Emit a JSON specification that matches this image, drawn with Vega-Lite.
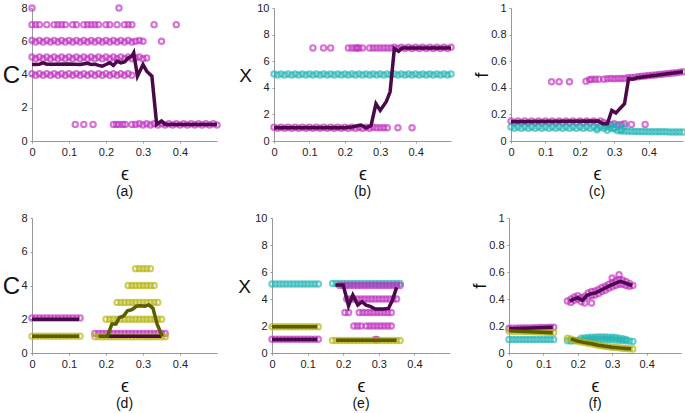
{
"$schema": "https://vega.github.io/schema/vega-lite/v6.json",
"padding": {"left": 2, "top": 0, "right": 0, "bottom": 0},
"datasets": {
"A": [
{"e":0,"v":4.05,"c":"m"},{"e":0.01,"v":3.95,"c":"m"},{"e":0.02,"v":4.05,"c":"m"},{"e":0.03,"v":3.95,"c":"m"},{"e":0.04,"v":4.05,"c":"m"},{"e":0.05,"v":3.95,"c":"m"},{"e":0.06,"v":4.05,"c":"m"},{"e":0.07,"v":3.95,"c":"m"},{"e":0.08,"v":4.05,"c":"m"},{"e":0.09,"v":3.95,"c":"m"},{"e":0.1,"v":4.05,"c":"m"},{"e":0.11,"v":3.95,"c":"m"},{"e":0.12,"v":4.05,"c":"m"},{"e":0.13,"v":3.95,"c":"m"},{"e":0.14,"v":4.05,"c":"m"},{"e":0.15,"v":3.95,"c":"m"},{"e":0.16,"v":4.05,"c":"m"},{"e":0.17,"v":3.95,"c":"m"},{"e":0.18,"v":4.05,"c":"m"},{"e":0.19,"v":3.95,"c":"m"},{"e":0.2,"v":4.05,"c":"m"},{"e":0.21,"v":3.95,"c":"m"},{"e":0.22,"v":4.05,"c":"m"},{"e":0.23,"v":3.95,"c":"m"},{"e":0.24,"v":4.05,"c":"m"},{"e":0.25,"v":3.95,"c":"m"},{"e":0.26,"v":4.05,"c":"m"},{"e":0.27,"v":3.95,"c":"m"},
{"e":0,"v":5.05,"c":"m"},{"e":0.01,"v":4.95,"c":"m"},{"e":0.02,"v":5.05,"c":"m"},{"e":0.03,"v":4.95,"c":"m"},{"e":0.04,"v":5.05,"c":"m"},{"e":0.05,"v":4.95,"c":"m"},{"e":0.06,"v":5.05,"c":"m"},{"e":0.07,"v":4.95,"c":"m"},{"e":0.08,"v":5.05,"c":"m"},{"e":0.09,"v":4.95,"c":"m"},{"e":0.1,"v":5.05,"c":"m"},{"e":0.11,"v":4.95,"c":"m"},{"e":0.12,"v":5.05,"c":"m"},{"e":0.13,"v":4.95,"c":"m"},{"e":0.14,"v":5.05,"c":"m"},{"e":0.15,"v":4.95,"c":"m"},{"e":0.16,"v":5.05,"c":"m"},{"e":0.17,"v":4.95,"c":"m"},{"e":0.18,"v":5.05,"c":"m"},{"e":0.19,"v":4.95,"c":"m"},{"e":0.2,"v":5.05,"c":"m"},{"e":0.21,"v":4.95,"c":"m"},{"e":0.22,"v":5.05,"c":"m"},{"e":0.23,"v":4.95,"c":"m"},{"e":0.24,"v":5.05,"c":"m"},{"e":0.25,"v":4.95,"c":"m"},{"e":0.26,"v":5.05,"c":"m"},{"e":0.27,"v":4.95,"c":"m"},{"e":0.28,"v":5,"c":"m"},{"e":0.29,"v":5.05,"c":"m"},{"e":0.3,"v":4.95,"c":"m"},{"e":0.31,"v":5,"c":"m"},
{"e":0,"v":6.05,"c":"m"},{"e":0.01,"v":5.95,"c":"m"},{"e":0.02,"v":6.05,"c":"m"},{"e":0.03,"v":5.95,"c":"m"},{"e":0.04,"v":6.05,"c":"m"},{"e":0.05,"v":5.95,"c":"m"},{"e":0.06,"v":6.05,"c":"m"},{"e":0.07,"v":5.95,"c":"m"},{"e":0.08,"v":6.05,"c":"m"},{"e":0.09,"v":5.95,"c":"m"},{"e":0.1,"v":6.05,"c":"m"},{"e":0.11,"v":5.95,"c":"m"},{"e":0.12,"v":6.05,"c":"m"},{"e":0.13,"v":5.95,"c":"m"},{"e":0.14,"v":6.05,"c":"m"},{"e":0.15,"v":5.95,"c":"m"},{"e":0.16,"v":6.05,"c":"m"},{"e":0.17,"v":5.95,"c":"m"},{"e":0.18,"v":6.05,"c":"m"},{"e":0.19,"v":5.95,"c":"m"},{"e":0.2,"v":6.05,"c":"m"},{"e":0.21,"v":5.95,"c":"m"},{"e":0.22,"v":6.05,"c":"m"},{"e":0.23,"v":5.95,"c":"m"},{"e":0.24,"v":6.05,"c":"m"},{"e":0.25,"v":5.95,"c":"m"},{"e":0.26,"v":6.05,"c":"m"},{"e":0.27,"v":5.95,"c":"m"},{"e":0.28,"v":6,"c":"m"},{"e":0.29,"v":6.05,"c":"m"},{"e":0.3,"v":6,"c":"m"},{"e":0.35,"v":6,"c":"m"},
{"e":0,"v":7,"c":"m"},{"e":0.01,"v":7,"c":"m"},{"e":0.02,"v":7,"c":"m"},{"e":0.04,"v":7,"c":"m"},{"e":0.06,"v":7,"c":"m"},{"e":0.07,"v":7,"c":"m"},{"e":0.08,"v":7,"c":"m"},{"e":0.09,"v":7,"c":"m"},{"e":0.11,"v":7,"c":"m"},{"e":0.12,"v":7,"c":"m"},{"e":0.14,"v":7,"c":"m"},{"e":0.15,"v":7,"c":"m"},{"e":0.16,"v":7,"c":"m"},{"e":0.17,"v":7,"c":"m"},{"e":0.18,"v":7,"c":"m"},{"e":0.2,"v":7,"c":"m"},{"e":0.21,"v":7,"c":"m"},{"e":0.23,"v":7,"c":"m"},{"e":0.25,"v":7,"c":"m"},{"e":0.26,"v":7,"c":"m"},{"e":0.27,"v":7,"c":"m"},{"e":0.33,"v":7,"c":"m"},{"e":0.39,"v":7,"c":"m"},
{"e":0,"v":8,"c":"m"},{"e":0.235,"v":8,"c":"m"},
{"e":0.117,"v":1,"c":"m"},{"e":0.14,"v":1,"c":"m"},{"e":0.165,"v":1,"c":"m"},{"e":0.22,"v":1,"c":"m"},{"e":0.228,"v":1,"c":"m"},{"e":0.235,"v":1,"c":"m"},{"e":0.245,"v":1,"c":"m"},{"e":0.252,"v":1,"c":"m"},{"e":0.27,"v":1,"c":"m"},{"e":0.28,"v":1,"c":"m"},
{"e":0.29,"v":1.04,"c":"m"},{"e":0.3,"v":0.96,"c":"m"},{"e":0.31,"v":1.04,"c":"m"},{"e":0.32,"v":0.96,"c":"m"},{"e":0.33,"v":1.04,"c":"m"},{"e":0.34,"v":0.96,"c":"m"},{"e":0.35,"v":1.04,"c":"m"},{"e":0.36,"v":0.96,"c":"m"},{"e":0.37,"v":1.04,"c":"m"},{"e":0.38,"v":0.96,"c":"m"},{"e":0.39,"v":1.04,"c":"m"},{"e":0.4,"v":0.96,"c":"m"},{"e":0.41,"v":1.04,"c":"m"},{"e":0.42,"v":0.96,"c":"m"},{"e":0.43,"v":1.04,"c":"m"},{"e":0.44,"v":0.96,"c":"m"},{"e":0.45,"v":1.04,"c":"m"},{"e":0.46,"v":0.96,"c":"m"},{"e":0.47,"v":1.04,"c":"m"},{"e":0.48,"v":0.96,"c":"m"},{"e":0.49,"v":1.04,"c":"m"},{"e":0.5,"v":0.96,"c":"m"}
],
"AL": [
{"e":0,"v":4.6,"c":"p","s":1},{"e":0.02,"v":4.62,"c":"p","s":1},{"e":0.03,"v":4.7,"c":"p","s":1},{"e":0.04,"v":4.62,"c":"p","s":1},{"e":0.06,"v":4.62,"c":"p","s":1},{"e":0.1,"v":4.63,"c":"p","s":1},{"e":0.13,"v":4.6,"c":"p","s":1},{"e":0.15,"v":4.67,"c":"p","s":1},{"e":0.16,"v":4.6,"c":"p","s":1},{"e":0.17,"v":4.62,"c":"p","s":1},{"e":0.18,"v":4.55,"c":"p","s":1},{"e":0.19,"v":4.5,"c":"p","s":1},{"e":0.2,"v":4.6,"c":"p","s":1},{"e":0.21,"v":4.7,"c":"p","s":1},{"e":0.22,"v":4.55,"c":"p","s":1},{"e":0.23,"v":4.8,"c":"p","s":1},{"e":0.24,"v":4.7,"c":"p","s":1},{"e":0.25,"v":4.75,"c":"p","s":1},{"e":0.26,"v":5.0,"c":"p","s":1},{"e":0.27,"v":5.1,"c":"p","s":1},{"e":0.275,"v":5.3,"c":"p","s":1},{"e":0.285,"v":3.9,"c":"p","s":1},{"e":0.3,"v":4.6,"c":"p","s":1},{"e":0.31,"v":4.2,"c":"p","s":1},{"e":0.324,"v":3.9,"c":"p","s":1},{"e":0.337,"v":1.0,"c":"p","s":1},{"e":0.35,"v":1.2,"c":"p","s":1},{"e":0.36,"v":1.0,"c":"p","s":1},{"e":0.5,"v":1.0,"c":"p","s":1}
],
"B": [
{"e":0,"v":1.04,"c":"m"},{"e":0.01,"v":0.96,"c":"m"},{"e":0.02,"v":1.04,"c":"m"},{"e":0.03,"v":0.96,"c":"m"},{"e":0.04,"v":1.04,"c":"m"},{"e":0.05,"v":0.96,"c":"m"},{"e":0.06,"v":1.04,"c":"m"},{"e":0.07,"v":0.96,"c":"m"},{"e":0.08,"v":1.04,"c":"m"},{"e":0.09,"v":0.96,"c":"m"},{"e":0.1,"v":1.04,"c":"m"},{"e":0.11,"v":0.96,"c":"m"},{"e":0.12,"v":1.04,"c":"m"},{"e":0.13,"v":0.96,"c":"m"},{"e":0.14,"v":1.04,"c":"m"},{"e":0.15,"v":0.96,"c":"m"},{"e":0.16,"v":1.04,"c":"m"},{"e":0.17,"v":0.96,"c":"m"},{"e":0.18,"v":1.04,"c":"m"},{"e":0.19,"v":0.96,"c":"m"},{"e":0.2,"v":1.04,"c":"m"},{"e":0.21,"v":0.96,"c":"m"},{"e":0.22,"v":1.04,"c":"m"},{"e":0.23,"v":0.96,"c":"m"},{"e":0.24,"v":1.04,"c":"m"},{"e":0.25,"v":0.96,"c":"m"},{"e":0.26,"v":1.04,"c":"m"},{"e":0.27,"v":0.96,"c":"m"},{"e":0.28,"v":1.04,"c":"m"},
{"e":0.29,"v":1,"c":"m"},{"e":0.3,"v":1,"c":"m"},{"e":0.31,"v":1,"c":"m"},{"e":0.32,"v":1,"c":"m"},{"e":0.35,"v":1,"c":"m"},{"e":0.39,"v":1,"c":"m"},
{"e":0.11,"v":7,"c":"m"},{"e":0.14,"v":7,"c":"m"},{"e":0.16,"v":7,"c":"m"},{"e":0.21,"v":7,"c":"m"},{"e":0.22,"v":7,"c":"m"},{"e":0.23,"v":7,"c":"m"},{"e":0.235,"v":7,"c":"m"},{"e":0.24,"v":7,"c":"m"},{"e":0.25,"v":7,"c":"m"},{"e":0.27,"v":7,"c":"m"},{"e":0.28,"v":7,"c":"m"},{"e":0.29,"v":7,"c":"m"},{"e":0.3,"v":7,"c":"m"},{"e":0.31,"v":7,"c":"m"},{"e":0.32,"v":7,"c":"m"},{"e":0.33,"v":7,"c":"m"},
{"e":0.34,"v":7.04,"c":"m"},{"e":0.35,"v":6.96,"c":"m"},{"e":0.36,"v":7.04,"c":"m"},{"e":0.37,"v":6.96,"c":"m"},{"e":0.38,"v":7.04,"c":"m"},{"e":0.39,"v":6.96,"c":"m"},{"e":0.4,"v":7.04,"c":"m"},{"e":0.41,"v":6.96,"c":"m"},{"e":0.42,"v":7.04,"c":"m"},{"e":0.43,"v":6.96,"c":"m"},{"e":0.44,"v":7.04,"c":"m"},{"e":0.45,"v":6.96,"c":"m"},{"e":0.46,"v":7.04,"c":"m"},{"e":0.47,"v":6.96,"c":"m"},{"e":0.48,"v":7.04,"c":"m"},{"e":0.49,"v":6.96,"c":"m"},{"e":0.5,"v":7.04,"c":"m"},
{"e":0,"v":5.04,"c":"t"},{"e":0.01,"v":4.96,"c":"t"},{"e":0.02,"v":5.04,"c":"t"},{"e":0.03,"v":4.96,"c":"t"},{"e":0.04,"v":5.04,"c":"t"},{"e":0.05,"v":4.96,"c":"t"},{"e":0.06,"v":5.04,"c":"t"},{"e":0.07,"v":4.96,"c":"t"},{"e":0.08,"v":5.04,"c":"t"},{"e":0.09,"v":4.96,"c":"t"},{"e":0.1,"v":5.04,"c":"t"},{"e":0.11,"v":4.96,"c":"t"},{"e":0.12,"v":5.04,"c":"t"},{"e":0.13,"v":4.96,"c":"t"},{"e":0.14,"v":5.04,"c":"t"},{"e":0.15,"v":4.96,"c":"t"},{"e":0.16,"v":5.04,"c":"t"},{"e":0.17,"v":4.96,"c":"t"},{"e":0.18,"v":5.04,"c":"t"},{"e":0.19,"v":4.96,"c":"t"},{"e":0.2,"v":5.04,"c":"t"},{"e":0.21,"v":4.96,"c":"t"},{"e":0.22,"v":5.04,"c":"t"},{"e":0.23,"v":4.96,"c":"t"},{"e":0.24,"v":5.04,"c":"t"},{"e":0.25,"v":4.96,"c":"t"},{"e":0.26,"v":5.04,"c":"t"},{"e":0.27,"v":4.96,"c":"t"},{"e":0.28,"v":5.04,"c":"t"},{"e":0.29,"v":4.96,"c":"t"},{"e":0.3,"v":5.04,"c":"t"},{"e":0.31,"v":4.96,"c":"t"},{"e":0.32,"v":5.04,"c":"t"},{"e":0.33,"v":4.96,"c":"t"},{"e":0.34,"v":5.04,"c":"t"},{"e":0.35,"v":4.96,"c":"t"},{"e":0.36,"v":5.04,"c":"t"},{"e":0.37,"v":4.96,"c":"t"},{"e":0.38,"v":5.04,"c":"t"},{"e":0.39,"v":4.96,"c":"t"},{"e":0.4,"v":5.04,"c":"t"},{"e":0.41,"v":4.96,"c":"t"},{"e":0.42,"v":5.04,"c":"t"},{"e":0.43,"v":4.96,"c":"t"},{"e":0.44,"v":5.04,"c":"t"},{"e":0.45,"v":4.96,"c":"t"},{"e":0.46,"v":5.04,"c":"t"},{"e":0.47,"v":4.96,"c":"t"},{"e":0.48,"v":5.04,"c":"t"},{"e":0.49,"v":4.96,"c":"t"},{"e":0.5,"v":5.04,"c":"t"}
],
"BL": [
{"e":0,"v":1,"c":"p","s":1},{"e":0.2,"v":1,"c":"p","s":1},{"e":0.22,"v":1.05,"c":"p","s":1},{"e":0.246,"v":1.2,"c":"p","s":1},{"e":0.26,"v":1.0,"c":"p","s":1},{"e":0.274,"v":1.15,"c":"p","s":1},{"e":0.288,"v":2.8,"c":"p","s":1},{"e":0.3,"v":2.3,"c":"p","s":1},{"e":0.317,"v":2.95,"c":"p","s":1},{"e":0.328,"v":3.7,"c":"p","s":1},{"e":0.34,"v":6.95,"c":"p","s":1},{"e":0.352,"v":6.75,"c":"p","s":1},{"e":0.362,"v":7.0,"c":"p","s":1},{"e":0.5,"v":7.0,"c":"p","s":1}
],
"C": [
{"e":0,"v":0.15,"c":"m"},{"e":0.01,"v":0.14,"c":"m"},{"e":0.02,"v":0.15,"c":"m"},{"e":0.03,"v":0.14,"c":"m"},{"e":0.04,"v":0.15,"c":"m"},{"e":0.05,"v":0.14,"c":"m"},{"e":0.06,"v":0.15,"c":"m"},{"e":0.07,"v":0.14,"c":"m"},{"e":0.08,"v":0.15,"c":"m"},{"e":0.09,"v":0.14,"c":"m"},{"e":0.1,"v":0.15,"c":"m"},{"e":0.11,"v":0.14,"c":"m"},{"e":0.12,"v":0.15,"c":"m"},{"e":0.13,"v":0.14,"c":"m"},{"e":0.14,"v":0.15,"c":"m"},{"e":0.15,"v":0.14,"c":"m"},{"e":0.16,"v":0.15,"c":"m"},{"e":0.17,"v":0.14,"c":"m"},{"e":0.18,"v":0.15,"c":"m"},{"e":0.19,"v":0.14,"c":"m"},{"e":0.2,"v":0.15,"c":"m"},{"e":0.21,"v":0.14,"c":"m"},{"e":0.22,"v":0.15,"c":"m"},{"e":0.23,"v":0.14,"c":"m"},{"e":0.24,"v":0.15,"c":"m"},{"e":0.25,"v":0.14,"c":"m"},{"e":0.26,"v":0.15,"c":"m"},{"e":0.27,"v":0.14,"c":"m"},
{"e":0.28,"v":0.13,"c":"m"},{"e":0.29,"v":0.125,"c":"m"},{"e":0.3,"v":0.13,"c":"m"},{"e":0.31,"v":0.12,"c":"m"},{"e":0.32,"v":0.125,"c":"m"},{"e":0.33,"v":0.13,"c":"m"},{"e":0.35,"v":0.125,"c":"m"},{"e":0.39,"v":0.125,"c":"m"},
{"e":0.118,"v":0.445,"c":"m"},{"e":0.14,"v":0.445,"c":"m"},{"e":0.17,"v":0.445,"c":"m"},{"e":0.218,"v":0.45,"c":"m"},{"e":0.228,"v":0.46,"c":"m"},{"e":0.235,"v":0.465,"c":"m"},{"e":0.245,"v":0.465,"c":"m"},{"e":0.255,"v":0.465,"c":"m"},{"e":0.27,"v":0.465,"c":"m"},{"e":0.28,"v":0.468,"c":"m"},{"e":0.29,"v":0.47,"c":"m"},{"e":0.3,"v":0.468,"c":"m"},{"e":0.31,"v":0.47,"c":"m"},{"e":0.32,"v":0.47,"c":"m"},{"e":0.33,"v":0.47,"c":"m"},
{"e":0.34,"v":0.475,"c":"m"},{"e":0.35,"v":0.478,"c":"m"},{"e":0.36,"v":0.48,"c":"m"},{"e":0.37,"v":0.483,"c":"m"},{"e":0.38,"v":0.486,"c":"m"},{"e":0.39,"v":0.489,"c":"m"},{"e":0.4,"v":0.492,"c":"m"},{"e":0.41,"v":0.494,"c":"m"},{"e":0.42,"v":0.497,"c":"m"},{"e":0.43,"v":0.5,"c":"m"},{"e":0.44,"v":0.502,"c":"m"},{"e":0.45,"v":0.505,"c":"m"},{"e":0.46,"v":0.508,"c":"m"},{"e":0.47,"v":0.511,"c":"m"},{"e":0.48,"v":0.514,"c":"m"},{"e":0.49,"v":0.517,"c":"m"},{"e":0.5,"v":0.52,"c":"m"},
{"e":0,"v":0.105,"c":"t"},{"e":0.01,"v":0.095,"c":"t"},{"e":0.02,"v":0.105,"c":"t"},{"e":0.03,"v":0.095,"c":"t"},{"e":0.04,"v":0.105,"c":"t"},{"e":0.05,"v":0.095,"c":"t"},{"e":0.06,"v":0.105,"c":"t"},{"e":0.07,"v":0.095,"c":"t"},{"e":0.08,"v":0.105,"c":"t"},{"e":0.09,"v":0.095,"c":"t"},{"e":0.1,"v":0.105,"c":"t"},{"e":0.11,"v":0.095,"c":"t"},{"e":0.12,"v":0.105,"c":"t"},{"e":0.13,"v":0.095,"c":"t"},{"e":0.14,"v":0.105,"c":"t"},{"e":0.15,"v":0.095,"c":"t"},{"e":0.16,"v":0.105,"c":"t"},{"e":0.17,"v":0.095,"c":"t"},{"e":0.18,"v":0.105,"c":"t"},{"e":0.19,"v":0.095,"c":"t"},{"e":0.2,"v":0.105,"c":"t"},{"e":0.21,"v":0.095,"c":"t"},{"e":0.22,"v":0.105,"c":"t"},{"e":0.23,"v":0.095,"c":"t"},{"e":0.24,"v":0.105,"c":"t"},{"e":0.25,"v":0.095,"c":"t"},{"e":0.26,"v":0.105,"c":"t"},{"e":0.27,"v":0.095,"c":"t"},{"e":0.28,"v":0.105,"c":"t"},{"e":0.29,"v":0.095,"c":"t"},{"e":0.3,"v":0.1,"c":"t"},
{"e":0.25,"v":0.085,"c":"t"},{"e":0.27,"v":0.115,"c":"t"},{"e":0.28,"v":0.08,"c":"t"},{"e":0.29,"v":0.12,"c":"t"},{"e":0.3,"v":0.09,"c":"t"},{"e":0.31,"v":0.115,"c":"t"},{"e":0.32,"v":0.085,"c":"t"},{"e":0.33,"v":0.11,"c":"t"},
{"e":0.31,"v":0.078,"c":"t"},{"e":0.32,"v":0.076,"c":"t"},{"e":0.33,"v":0.075,"c":"t"},{"e":0.34,"v":0.074,"c":"t"},{"e":0.35,"v":0.073,"c":"t"},{"e":0.36,"v":0.072,"c":"t"},{"e":0.37,"v":0.072,"c":"t"},{"e":0.38,"v":0.071,"c":"t"},{"e":0.39,"v":0.071,"c":"t"},{"e":0.4,"v":0.07,"c":"t"},{"e":0.41,"v":0.07,"c":"t"},{"e":0.42,"v":0.07,"c":"t"},{"e":0.43,"v":0.069,"c":"t"},{"e":0.44,"v":0.069,"c":"t"},{"e":0.45,"v":0.069,"c":"t"},{"e":0.46,"v":0.068,"c":"t"},{"e":0.47,"v":0.068,"c":"t"},{"e":0.48,"v":0.068,"c":"t"},{"e":0.49,"v":0.068,"c":"t"},{"e":0.5,"v":0.067,"c":"t"}
],
"CL": [
{"e":0,"v":0.145,"c":"p","s":1},{"e":0.254,"v":0.15,"c":"p","s":1},{"e":0.267,"v":0.13,"c":"p","s":1},{"e":0.28,"v":0.13,"c":"p","s":1},{"e":0.293,"v":0.23,"c":"p","s":1},{"e":0.305,"v":0.21,"c":"p","s":1},{"e":0.317,"v":0.245,"c":"p","s":1},{"e":0.33,"v":0.28,"c":"p","s":1},{"e":0.342,"v":0.47,"c":"p","s":1},{"e":0.353,"v":0.465,"c":"p","s":1},{"e":0.366,"v":0.475,"c":"p","s":1},{"e":0.5,"v":0.52,"c":"p","s":1}
],
"D": [
{"e":0,"v":2.08,"c":"m"},{"e":0.01,"v":2.08,"c":"m"},{"e":0.02,"v":2.08,"c":"m"},{"e":0.03,"v":2.08,"c":"m"},{"e":0.04,"v":2.08,"c":"m"},{"e":0.05,"v":2.08,"c":"m"},{"e":0.06,"v":2.08,"c":"m"},{"e":0.07,"v":2.08,"c":"m"},{"e":0.08,"v":2.08,"c":"m"},{"e":0.09,"v":2.08,"c":"m"},{"e":0.1,"v":2.08,"c":"m"},{"e":0.11,"v":2.08,"c":"m"},{"e":0.12,"v":2.08,"c":"m"},{"e":0.13,"v":2.08,"c":"m"},
{"e":0.17,"v":1.15,"c":"m"},{"e":0.18,"v":1.15,"c":"m"},{"e":0.19,"v":1.15,"c":"m"},{"e":0.2,"v":1.15,"c":"m"},{"e":0.21,"v":1.15,"c":"m"},{"e":0.22,"v":1.15,"c":"m"},{"e":0.23,"v":1.15,"c":"m"},{"e":0.24,"v":1.15,"c":"m"},{"e":0.25,"v":1.15,"c":"m"},{"e":0.26,"v":1.15,"c":"m"},{"e":0.27,"v":1.15,"c":"m"},{"e":0.28,"v":1.15,"c":"m"},{"e":0.29,"v":1.15,"c":"m"},{"e":0.3,"v":1.15,"c":"m"},{"e":0.31,"v":1.15,"c":"m"},{"e":0.32,"v":1.15,"c":"m"},{"e":0.33,"v":1.15,"c":"m"},{"e":0.34,"v":1.15,"c":"m"},{"e":0.35,"v":1.15,"c":"m"},{"e":0.36,"v":1.15,"c":"m"},
{"e":0,"v":1,"c":"o"},{"e":0.01,"v":1,"c":"o"},{"e":0.02,"v":1,"c":"o"},{"e":0.03,"v":1,"c":"o"},{"e":0.04,"v":1,"c":"o"},{"e":0.05,"v":1,"c":"o"},{"e":0.06,"v":1,"c":"o"},{"e":0.07,"v":1,"c":"o"},{"e":0.08,"v":1,"c":"o"},{"e":0.09,"v":1,"c":"o"},{"e":0.1,"v":1,"c":"o"},{"e":0.11,"v":1,"c":"o"},{"e":0.12,"v":1,"c":"o"},{"e":0.13,"v":1,"c":"o"},
{"e":0.17,"v":0.97,"c":"o"},{"e":0.18,"v":0.97,"c":"o"},{"e":0.19,"v":0.97,"c":"o"},{"e":0.2,"v":0.97,"c":"o"},{"e":0.21,"v":0.97,"c":"o"},{"e":0.22,"v":0.97,"c":"o"},{"e":0.23,"v":0.97,"c":"o"},{"e":0.24,"v":0.97,"c":"o"},{"e":0.25,"v":0.97,"c":"o"},{"e":0.26,"v":0.97,"c":"o"},{"e":0.27,"v":0.97,"c":"o"},{"e":0.28,"v":0.97,"c":"o"},{"e":0.29,"v":0.97,"c":"o"},{"e":0.3,"v":0.97,"c":"o"},{"e":0.31,"v":0.97,"c":"o"},{"e":0.32,"v":0.97,"c":"o"},{"e":0.33,"v":0.97,"c":"o"},{"e":0.34,"v":0.97,"c":"o"},{"e":0.35,"v":0.97,"c":"o"},{"e":0.36,"v":0.97,"c":"o"},
{"e":0.2,"v":2,"c":"o"},{"e":0.21,"v":2,"c":"o"},{"e":0.22,"v":2,"c":"o"},{"e":0.23,"v":2,"c":"o"},{"e":0.24,"v":2,"c":"o"},{"e":0.25,"v":2,"c":"o"},{"e":0.26,"v":2,"c":"o"},{"e":0.27,"v":2,"c":"o"},{"e":0.28,"v":2,"c":"o"},{"e":0.29,"v":2,"c":"o"},{"e":0.3,"v":2,"c":"o"},{"e":0.31,"v":2,"c":"o"},{"e":0.32,"v":2,"c":"o"},{"e":0.33,"v":2,"c":"o"},{"e":0.34,"v":2,"c":"o"},{"e":0.35,"v":2,"c":"o"},
{"e":0.23,"v":3,"c":"o"},{"e":0.24,"v":3,"c":"o"},{"e":0.25,"v":3,"c":"o"},{"e":0.26,"v":3,"c":"o"},{"e":0.27,"v":3,"c":"o"},{"e":0.28,"v":3,"c":"o"},{"e":0.29,"v":3,"c":"o"},{"e":0.3,"v":3,"c":"o"},{"e":0.31,"v":3,"c":"o"},{"e":0.32,"v":3,"c":"o"},{"e":0.33,"v":3,"c":"o"},{"e":0.34,"v":3,"c":"o"},
{"e":0.26,"v":4,"c":"o"},{"e":0.27,"v":4,"c":"o"},{"e":0.28,"v":4,"c":"o"},{"e":0.29,"v":4,"c":"o"},{"e":0.3,"v":4,"c":"o"},{"e":0.31,"v":4,"c":"o"},{"e":0.32,"v":4,"c":"o"},{"e":0.33,"v":4,"c":"o"},
{"e":0.28,"v":5,"c":"o"},{"e":0.29,"v":5,"c":"o"},{"e":0.3,"v":5,"c":"o"},{"e":0.31,"v":5,"c":"o"},{"e":0.32,"v":5,"c":"o"}
],
"DL": [
{"e":0,"v":2.0,"c":"p","s":1},{"e":0.127,"v":2.0,"c":"p","s":1},
{"e":0.2,"v":1.0,"c":"p","s":3},{"e":0.35,"v":1.0,"c":"p","s":3},
{"e":0,"v":1.0,"c":"q","s":2},{"e":0.127,"v":1.0,"c":"q","s":2},
{"e":0.18,"v":1.0,"c":"q","s":4},{"e":0.204,"v":1.0,"c":"q","s":4},{"e":0.216,"v":1.72,"c":"q","s":4},{"e":0.227,"v":1.72,"c":"q","s":4},{"e":0.236,"v":2.1,"c":"q","s":4},{"e":0.248,"v":2.2,"c":"q","s":4},{"e":0.258,"v":2.5,"c":"q","s":4},{"e":0.27,"v":2.57,"c":"q","s":4},{"e":0.282,"v":2.77,"c":"q","s":4},{"e":0.293,"v":2.8,"c":"q","s":4},{"e":0.305,"v":2.77,"c":"q","s":4},{"e":0.316,"v":2.85,"c":"q","s":4},{"e":0.327,"v":2.65,"c":"q","s":4},{"e":0.338,"v":1.72,"c":"q","s":4},{"e":0.352,"v":1.0,"c":"q","s":4}
],
"E": [
{"e":0.17,"v":5.15,"c":"t"},{"e":0.18,"v":5.15,"c":"t"},{"e":0.19,"v":5.15,"c":"t"},{"e":0.2,"v":5.15,"c":"t"},{"e":0.21,"v":5.15,"c":"t"},{"e":0.22,"v":5.15,"c":"t"},{"e":0.23,"v":5.15,"c":"t"},{"e":0.24,"v":5.15,"c":"t"},{"e":0.25,"v":5.15,"c":"t"},{"e":0.26,"v":5.15,"c":"t"},{"e":0.27,"v":5.15,"c":"t"},{"e":0.28,"v":5.15,"c":"t"},{"e":0.29,"v":5.15,"c":"t"},{"e":0.3,"v":5.15,"c":"t"},{"e":0.31,"v":5.15,"c":"t"},{"e":0.32,"v":5.15,"c":"t"},{"e":0.33,"v":5.15,"c":"t"},{"e":0.34,"v":5.15,"c":"t"},{"e":0.35,"v":5.15,"c":"t"},{"e":0.36,"v":5.15,"c":"t"},
{"e":0,"v":5.12,"c":"t"},{"e":0.01,"v":5.12,"c":"t"},{"e":0.02,"v":5.12,"c":"t"},{"e":0.03,"v":5.12,"c":"t"},{"e":0.04,"v":5.12,"c":"t"},{"e":0.05,"v":5.12,"c":"t"},{"e":0.06,"v":5.12,"c":"t"},{"e":0.07,"v":5.12,"c":"t"},{"e":0.08,"v":5.12,"c":"t"},{"e":0.09,"v":5.12,"c":"t"},{"e":0.1,"v":5.12,"c":"t"},{"e":0.11,"v":5.12,"c":"t"},{"e":0.12,"v":5.12,"c":"t"},{"e":0.13,"v":5.12,"c":"t"},
{"e":0,"v":1.02,"c":"m"},{"e":0.01,"v":1.02,"c":"m"},{"e":0.02,"v":1.02,"c":"m"},{"e":0.03,"v":1.02,"c":"m"},{"e":0.04,"v":1.02,"c":"m"},{"e":0.05,"v":1.02,"c":"m"},{"e":0.06,"v":1.02,"c":"m"},{"e":0.07,"v":1.02,"c":"m"},{"e":0.08,"v":1.02,"c":"m"},{"e":0.09,"v":1.02,"c":"m"},{"e":0.1,"v":1.02,"c":"m"},{"e":0.11,"v":1.02,"c":"m"},{"e":0.12,"v":1.02,"c":"m"},{"e":0.13,"v":1.02,"c":"m"},
{"e":0.19,"v":5.0,"c":"m"},{"e":0.2,"v":5.0,"c":"m"},{"e":0.21,"v":5.0,"c":"m"},{"e":0.22,"v":5.0,"c":"m"},{"e":0.23,"v":5.0,"c":"m"},{"e":0.24,"v":5.0,"c":"m"},{"e":0.25,"v":5.0,"c":"m"},{"e":0.26,"v":5.0,"c":"m"},{"e":0.27,"v":5.0,"c":"m"},{"e":0.28,"v":5.0,"c":"m"},{"e":0.29,"v":5.0,"c":"m"},{"e":0.3,"v":5.0,"c":"m"},{"e":0.31,"v":5.0,"c":"m"},{"e":0.32,"v":5.0,"c":"m"},{"e":0.33,"v":5.0,"c":"m"},{"e":0.34,"v":5.0,"c":"m"},{"e":0.35,"v":5.0,"c":"m"},{"e":0.36,"v":5.0,"c":"m"},
{"e":0.21,"v":4,"c":"m"},{"e":0.22,"v":4,"c":"m"},{"e":0.23,"v":4,"c":"m"},{"e":0.24,"v":4,"c":"m"},{"e":0.25,"v":4,"c":"m"},{"e":0.26,"v":4,"c":"m"},{"e":0.27,"v":4,"c":"m"},{"e":0.28,"v":4,"c":"m"},{"e":0.29,"v":4,"c":"m"},{"e":0.3,"v":4,"c":"m"},{"e":0.31,"v":4,"c":"m"},{"e":0.32,"v":4,"c":"m"},{"e":0.33,"v":4,"c":"m"},{"e":0.34,"v":4,"c":"m"},{"e":0.35,"v":4,"c":"m"},
{"e":0.205,"v":3,"c":"m"},{"e":0.215,"v":3,"c":"m"},{"e":0.245,"v":3,"c":"m"},{"e":0.255,"v":3,"c":"m"},{"e":0.265,"v":3,"c":"m"},{"e":0.275,"v":3,"c":"m"},{"e":0.285,"v":3,"c":"m"},{"e":0.295,"v":3,"c":"m"},{"e":0.305,"v":3,"c":"m"},{"e":0.315,"v":3,"c":"m"},{"e":0.325,"v":3,"c":"m"},{"e":0.335,"v":3,"c":"m"},
{"e":0.23,"v":2,"c":"m"},{"e":0.24,"v":2,"c":"m"},{"e":0.25,"v":2,"c":"m"},{"e":0.265,"v":2,"c":"m"},{"e":0.275,"v":2,"c":"m"},{"e":0.285,"v":2,"c":"m"},{"e":0.295,"v":2,"c":"m"},{"e":0.305,"v":2,"c":"m"},{"e":0.315,"v":2,"c":"m"},{"e":0.325,"v":2,"c":"m"},{"e":0.335,"v":2,"c":"m"},
{"e":0.29,"v":1.0,"c":"m"},{"e":0.295,"v":1.0,"c":"m"},
{"e":0,"v":1.95,"c":"o"},{"e":0.01,"v":1.95,"c":"o"},{"e":0.02,"v":1.95,"c":"o"},{"e":0.03,"v":1.95,"c":"o"},{"e":0.04,"v":1.95,"c":"o"},{"e":0.05,"v":1.95,"c":"o"},{"e":0.06,"v":1.95,"c":"o"},{"e":0.07,"v":1.95,"c":"o"},{"e":0.08,"v":1.95,"c":"o"},{"e":0.09,"v":1.95,"c":"o"},{"e":0.1,"v":1.95,"c":"o"},{"e":0.11,"v":1.95,"c":"o"},{"e":0.12,"v":1.95,"c":"o"},{"e":0.13,"v":1.95,"c":"o"},
{"e":0.17,"v":0.92,"c":"o"},{"e":0.18,"v":0.92,"c":"o"},{"e":0.19,"v":0.92,"c":"o"},{"e":0.2,"v":0.92,"c":"o"},{"e":0.21,"v":0.92,"c":"o"},{"e":0.22,"v":0.92,"c":"o"},{"e":0.23,"v":0.92,"c":"o"},{"e":0.24,"v":0.92,"c":"o"},{"e":0.25,"v":0.92,"c":"o"},{"e":0.26,"v":0.92,"c":"o"},{"e":0.27,"v":0.92,"c":"o"},{"e":0.28,"v":0.92,"c":"o"},{"e":0.29,"v":0.92,"c":"o"},{"e":0.3,"v":0.92,"c":"o"},{"e":0.31,"v":0.92,"c":"o"},{"e":0.32,"v":0.92,"c":"o"},{"e":0.33,"v":0.92,"c":"o"},{"e":0.34,"v":0.92,"c":"o"},{"e":0.35,"v":0.92,"c":"o"},{"e":0.36,"v":0.92,"c":"o"}
],
"EL": [
{"e":0,"v":1.0,"c":"p","s":1},{"e":0.127,"v":1.0,"c":"p","s":1},
{"e":0,"v":1.95,"c":"q","s":2},{"e":0.127,"v":1.95,"c":"q","s":2},
{"e":0.18,"v":0.95,"c":"q","s":4},{"e":0.35,"v":0.95,"c":"q","s":4},
{"e":0.178,"v":5.04,"c":"p","s":3},{"e":0.2,"v":5.04,"c":"p","s":3},{"e":0.215,"v":3.5,"c":"p","s":3},{"e":0.227,"v":4.3,"c":"p","s":3},{"e":0.241,"v":3.55,"c":"p","s":3},{"e":0.253,"v":3.8,"c":"p","s":3},{"e":0.264,"v":3.55,"c":"p","s":3},{"e":0.276,"v":3.45,"c":"p","s":3},{"e":0.29,"v":3.26,"c":"p","s":3},{"e":0.304,"v":3.26,"c":"p","s":3},{"e":0.315,"v":3.26,"c":"p","s":3},{"e":0.327,"v":3.3,"c":"p","s":3},{"e":0.338,"v":3.88,"c":"p","s":3},{"e":0.35,"v":4.86,"c":"p","s":3}
],
"F": [
{"e":0,"v":0.183,"c":"m"},{"e":0.01,"v":0.184,"c":"m"},{"e":0.02,"v":0.184,"c":"m"},{"e":0.03,"v":0.185,"c":"m"},{"e":0.04,"v":0.185,"c":"m"},{"e":0.05,"v":0.186,"c":"m"},{"e":0.06,"v":0.186,"c":"m"},{"e":0.07,"v":0.187,"c":"m"},{"e":0.08,"v":0.187,"c":"m"},{"e":0.09,"v":0.188,"c":"m"},{"e":0.1,"v":0.188,"c":"m"},{"e":0.11,"v":0.189,"c":"m"},{"e":0.12,"v":0.19,"c":"m"},{"e":0.13,"v":0.19,"c":"m"},
{"e":0.17,"v":0.385,"c":"m"},{"e":0.18,"v":0.375,"c":"m"},{"e":0.18,"v":0.4,"c":"m"},{"e":0.19,"v":0.39,"c":"m"},{"e":0.19,"v":0.415,"c":"m"},{"e":0.2,"v":0.4,"c":"m"},{"e":0.2,"v":0.425,"c":"m"},{"e":0.21,"v":0.38,"c":"m"},{"e":0.21,"v":0.41,"c":"m"},{"e":0.22,"v":0.37,"c":"m"},{"e":0.22,"v":0.42,"c":"m"},{"e":0.23,"v":0.415,"c":"m"},{"e":0.23,"v":0.445,"c":"m"},{"e":0.24,"v":0.37,"c":"m"},{"e":0.24,"v":0.425,"c":"m"},{"e":0.24,"v":0.455,"c":"m"},{"e":0.25,"v":0.43,"c":"m"},{"e":0.25,"v":0.46,"c":"m"},{"e":0.26,"v":0.44,"c":"m"},{"e":0.26,"v":0.47,"c":"m"},{"e":0.27,"v":0.455,"c":"m"},{"e":0.27,"v":0.485,"c":"m"},{"e":0.28,"v":0.465,"c":"m"},{"e":0.28,"v":0.495,"c":"m"},{"e":0.29,"v":0.48,"c":"m"},{"e":0.29,"v":0.51,"c":"m"},{"e":0.3,"v":0.49,"c":"m"},{"e":0.3,"v":0.52,"c":"m"},{"e":0.3,"v":0.555,"c":"m"},{"e":0.31,"v":0.5,"c":"m"},{"e":0.31,"v":0.535,"c":"m"},{"e":0.32,"v":0.51,"c":"m"},{"e":0.32,"v":0.545,"c":"m"},{"e":0.32,"v":0.58,"c":"m"},{"e":0.33,"v":0.51,"c":"m"},{"e":0.33,"v":0.54,"c":"m"},{"e":0.34,"v":0.5,"c":"m"},{"e":0.34,"v":0.53,"c":"m"},{"e":0.35,"v":0.495,"c":"m"},{"e":0.35,"v":0.515,"c":"m"},{"e":0.36,"v":0.5,"c":"m"},
{"e":0,"v":0.1,"c":"t"},{"e":0.01,"v":0.1,"c":"t"},{"e":0.02,"v":0.1,"c":"t"},{"e":0.03,"v":0.1,"c":"t"},{"e":0.04,"v":0.1,"c":"t"},{"e":0.05,"v":0.1,"c":"t"},{"e":0.06,"v":0.1,"c":"t"},{"e":0.07,"v":0.1,"c":"t"},{"e":0.08,"v":0.1,"c":"t"},{"e":0.09,"v":0.1,"c":"t"},{"e":0.1,"v":0.1,"c":"t"},{"e":0.11,"v":0.1,"c":"t"},{"e":0.12,"v":0.1,"c":"t"},{"e":0.13,"v":0.1,"c":"t"},
{"e":0.17,"v":0.09,"c":"t"},{"e":0.18,"v":0.088,"c":"t"},{"e":0.19,"v":0.09,"c":"t"},{"e":0.2,"v":0.092,"c":"t"},{"e":0.21,"v":0.095,"c":"t"},{"e":0.21,"v":0.11,"c":"t"},{"e":0.22,"v":0.097,"c":"t"},{"e":0.22,"v":0.112,"c":"t"},{"e":0.23,"v":0.098,"c":"t"},{"e":0.23,"v":0.115,"c":"t"},{"e":0.24,"v":0.098,"c":"t"},{"e":0.24,"v":0.116,"c":"t"},{"e":0.25,"v":0.1,"c":"t"},{"e":0.25,"v":0.117,"c":"t"},{"e":0.26,"v":0.1,"c":"t"},{"e":0.26,"v":0.118,"c":"t"},{"e":0.27,"v":0.1,"c":"t"},{"e":0.27,"v":0.118,"c":"t"},{"e":0.28,"v":0.1,"c":"t"},{"e":0.28,"v":0.118,"c":"t"},{"e":0.29,"v":0.1,"c":"t"},{"e":0.29,"v":0.117,"c":"t"},{"e":0.3,"v":0.098,"c":"t"},{"e":0.3,"v":0.116,"c":"t"},{"e":0.31,"v":0.096,"c":"t"},{"e":0.31,"v":0.114,"c":"t"},{"e":0.32,"v":0.094,"c":"t"},{"e":0.32,"v":0.11,"c":"t"},{"e":0.33,"v":0.092,"c":"t"},{"e":0.33,"v":0.106,"c":"t"},{"e":0.34,"v":0.09,"c":"t"},{"e":0.34,"v":0.1,"c":"t"},{"e":0.35,"v":0.088,"c":"t"},{"e":0.36,"v":0.086,"c":"t"},
{"e":0,"v":0.163,"c":"o"},{"e":0.01,"v":0.162,"c":"o"},{"e":0.02,"v":0.162,"c":"o"},{"e":0.03,"v":0.161,"c":"o"},{"e":0.04,"v":0.16,"c":"o"},{"e":0.05,"v":0.16,"c":"o"},{"e":0.06,"v":0.159,"c":"o"},{"e":0.07,"v":0.158,"c":"o"},{"e":0.08,"v":0.157,"c":"o"},{"e":0.09,"v":0.156,"c":"o"},{"e":0.1,"v":0.155,"c":"o"},{"e":0.11,"v":0.154,"c":"o"},{"e":0.12,"v":0.153,"c":"o"},{"e":0.13,"v":0.152,"c":"o"},
{"e":0.17,"v":0.11,"c":"o"},{"e":0.18,"v":0.104,"c":"o"},{"e":0.19,"v":0.095,"c":"o"},{"e":0.2,"v":0.088,"c":"o"},{"e":0.21,"v":0.082,"c":"o"},{"e":0.22,"v":0.077,"c":"o"},{"e":0.23,"v":0.072,"c":"o"},{"e":0.24,"v":0.068,"c":"o"},{"e":0.25,"v":0.063,"c":"o"},{"e":0.26,"v":0.058,"c":"o"},{"e":0.27,"v":0.054,"c":"o"},{"e":0.28,"v":0.05,"c":"o"},{"e":0.29,"v":0.047,"c":"o"},{"e":0.3,"v":0.043,"c":"o"},{"e":0.31,"v":0.04,"c":"o"},{"e":0.32,"v":0.038,"c":"o"},{"e":0.33,"v":0.036,"c":"o"},{"e":0.34,"v":0.034,"c":"o"},{"e":0.35,"v":0.032,"c":"o"},{"e":0.36,"v":0.03,"c":"o"}
],
"FL": [
{"e":0,"v":0.18,"c":"p","s":1},{"e":0.127,"v":0.19,"c":"p","s":1},
{"e":0,"v":0.165,"c":"q","s":2},{"e":0.127,"v":0.15,"c":"q","s":2},
{"e":0.177,"v":0.385,"c":"p","s":3},{"e":0.189,"v":0.4,"c":"p","s":3},{"e":0.2,"v":0.41,"c":"p","s":3},{"e":0.213,"v":0.39,"c":"p","s":3},{"e":0.226,"v":0.426,"c":"p","s":3},{"e":0.237,"v":0.438,"c":"p","s":3},{"e":0.252,"v":0.445,"c":"p","s":3},{"e":0.271,"v":0.47,"c":"p","s":3},{"e":0.29,"v":0.495,"c":"p","s":3},{"e":0.31,"v":0.517,"c":"p","s":3},{"e":0.324,"v":0.53,"c":"p","s":3},{"e":0.339,"v":0.517,"c":"p","s":3},{"e":0.358,"v":0.5,"c":"p","s":3},
{"e":0.18,"v":0.105,"c":"q","s":4},{"e":0.2,"v":0.088,"c":"q","s":4},{"e":0.22,"v":0.077,"c":"q","s":4},{"e":0.24,"v":0.068,"c":"q","s":4},{"e":0.26,"v":0.058,"c":"q","s":4},{"e":0.28,"v":0.05,"c":"q","s":4},{"e":0.3,"v":0.043,"c":"q","s":4},{"e":0.32,"v":0.038,"c":"q","s":4},{"e":0.34,"v":0.034,"c":"q","s":4},{"e":0.355,"v":0.031,"c":"q","s":4}
]
},
"vconcat": [
{"hconcat": [
{"width":185,"height":133,
 "title":{"text":"(a)","orient":"bottom","anchor":"middle","frame":"group","offset":2},
 "layer":[
  {"data":{"name":"A"},"mark":{"type":"point","shape":"circle","filled":false,"size":28,"strokeWidth":2.2,"opacity":0.65},
   "encoding":{"x":{"field":"e","type":"quantitative","scale":{"domain":[0,0.5]},"axis":{"values":[0,0.1,0.2,0.3,0.4],"tickCount":10,"format":"~g","title":"ϵ"}},
     "y":{"field":"v","type":"quantitative","scale":{"domain":[0,8]},"axis":{"values":[0,2,4,6,8],"tickCount":10,"title":"C","titleFontSize":24,"titleAngle":0,"titleX":-21,"titleY":67}},
     "color":{"field":"c","type":"nominal","scale":{"domain":["m","t","o","p","q"],"range":["#c02cc0","#22b4b4","#b4b40c","#4a0a4a","#5c5c00"]},"legend":null}}},
  {"data":{"name":"AL"},"mark":{"type":"line","strokeWidth":3.5},
   "encoding":{"x":{"field":"e","type":"quantitative"},"y":{"field":"v","type":"quantitative"},"color":{"field":"c","type":"nominal","legend":null},"detail":{"field":"s","type":"nominal"}}}
 ]},
{"width":177,"height":133,
 "title":{"text":"(b)","orient":"bottom","anchor":"middle","frame":"group","offset":2},
 "layer":[
  {"data":{"name":"B"},"mark":{"type":"point","shape":"circle","filled":false,"size":28,"strokeWidth":2.2,"opacity":0.65},
   "encoding":{"x":{"field":"e","type":"quantitative","scale":{"domain":[0,0.5]},"axis":{"values":[0,0.1,0.2,0.3,0.4],"tickCount":10,"format":"~g","title":"ϵ"}},
     "y":{"field":"v","type":"quantitative","scale":{"domain":[0,10]},"axis":{"values":[0,2,4,6,8,10],"tickCount":10,"title":"X","titleFontSize":19,"titleAngle":0,"titleX":-29,"titleY":67}},
     "color":{"field":"c","type":"nominal","legend":null}}},
  {"data":{"name":"BL"},"mark":{"type":"line","strokeWidth":3.5},
   "encoding":{"x":{"field":"e","type":"quantitative"},"y":{"field":"v","type":"quantitative"},"color":{"field":"c","type":"nominal","legend":null},"detail":{"field":"s","type":"nominal"}}}
 ]},
{"width":172,"height":133,
 "title":{"text":"(c)","orient":"bottom","anchor":"middle","frame":"group","offset":2},
 "layer":[
  {"data":{"name":"C"},"mark":{"type":"point","shape":"circle","filled":false,"size":28,"strokeWidth":2.2,"opacity":0.65},
   "encoding":{"x":{"field":"e","type":"quantitative","scale":{"domain":[0,0.5]},"axis":{"values":[0,0.1,0.2,0.3,0.4],"tickCount":10,"format":"~g","title":"ϵ"}},
     "y":{"field":"v","type":"quantitative","scale":{"domain":[0,1]},"axis":{"values":[0,0.2,0.4,0.6,0.8,1],"tickCount":10,"format":"~g","title":"f","titleFontSize":19,"titleAngle":270,"titlePadding":9}},
     "color":{"field":"c","type":"nominal","legend":null}}},
  {"data":{"name":"CL"},"mark":{"type":"line","strokeWidth":3.5},
   "encoding":{"x":{"field":"e","type":"quantitative"},"y":{"field":"v","type":"quantitative"},"color":{"field":"c","type":"nominal","legend":null},"detail":{"field":"s","type":"nominal"}}}
 ]}
], "spacing": 13, "resolve": {"scale": {"x": "independent", "y": "independent"}}},
{"hconcat": [
{"width":185,"height":135,
 "title":{"text":"(d)","orient":"bottom","anchor":"middle","frame":"group","offset":2},
 "layer":[
  {"data":{"name":"D"},"mark":{"type":"point","shape":"circle","filled":false,"size":28,"strokeWidth":2.2,"opacity":0.65},
   "encoding":{"x":{"field":"e","type":"quantitative","scale":{"domain":[0,0.5]},"axis":{"values":[0,0.1,0.2,0.3,0.4],"tickCount":10,"format":"~g","title":"ϵ"}},
     "y":{"field":"v","type":"quantitative","scale":{"domain":[0,8]},"axis":{"values":[0,2,4,6,8],"tickCount":10,"title":"C","titleFontSize":24,"titleAngle":0,"titleX":-21,"titleY":68}},
     "color":{"field":"c","type":"nominal","legend":null}}},
  {"data":{"name":"DL"},"mark":{"type":"line","strokeWidth":3.5},
   "encoding":{"x":{"field":"e","type":"quantitative"},"y":{"field":"v","type":"quantitative"},"color":{"field":"c","type":"nominal","legend":null},"detail":{"field":"s","type":"nominal"}}}
 ]},
{"width":178,"height":135,
 "title":{"text":"(e)","orient":"bottom","anchor":"middle","frame":"group","offset":2},
 "layer":[
  {"data":{"name":"E"},"mark":{"type":"point","shape":"circle","filled":false,"size":28,"strokeWidth":2.2,"opacity":0.65},
   "encoding":{"x":{"field":"e","type":"quantitative","scale":{"domain":[0,0.5]},"axis":{"values":[0,0.1,0.2,0.3,0.4],"tickCount":10,"format":"~g","title":"ϵ"}},
     "y":{"field":"v","type":"quantitative","scale":{"domain":[0,10]},"axis":{"values":[0,2,4,6,8,10],"tickCount":10,"title":"X","titleFontSize":19,"titleAngle":0,"titleX":-28,"titleY":68}},
     "color":{"field":"c","type":"nominal","legend":null}}},
  {"data":{"name":"EL"},"mark":{"type":"line","strokeWidth":3.5},
   "encoding":{"x":{"field":"e","type":"quantitative"},"y":{"field":"v","type":"quantitative"},"color":{"field":"c","type":"nominal","legend":null},"detail":{"field":"s","type":"nominal"}}}
 ]},
{"width":172,"height":135,
 "title":{"text":"(f)","orient":"bottom","anchor":"middle","frame":"group","offset":2},
 "layer":[
  {"data":{"name":"F"},"mark":{"type":"point","shape":"circle","filled":false,"size":28,"strokeWidth":2.2,"opacity":0.65},
   "encoding":{"x":{"field":"e","type":"quantitative","scale":{"domain":[0,0.5]},"axis":{"values":[0,0.1,0.2,0.3,0.4],"tickCount":10,"format":"~g","title":"ϵ"}},
     "y":{"field":"v","type":"quantitative","scale":{"domain":[0,1]},"axis":{"values":[0,0.2,0.4,0.6,0.8,1],"tickCount":10,"format":"~g","title":"f","titleFontSize":19,"titleAngle":270,"titlePadding":9}},
     "color":{"field":"c","type":"nominal","legend":null}}},
  {"data":{"name":"FL"},"mark":{"type":"line","strokeWidth":3.5},
   "encoding":{"x":{"field":"e","type":"quantitative"},"y":{"field":"v","type":"quantitative"},"color":{"field":"c","type":"nominal","legend":null},"detail":{"field":"s","type":"nominal"}}}
 ]}
], "spacing": 20, "resolve": {"scale": {"x": "independent", "y": "independent"}}}
],
"spacing": 13,
"config": {
 "view": {"stroke": null},
 "font": "Liberation Sans",
 "title": {"fontSize": 14, "fontWeight": "normal", "font": "Liberation Sans", "color": "#111"},
 "axis": {"grid": false, "domainColor": "#999", "tickColor": "#999", "tickSize": 2, "labelFont": "Liberation Sans", "labelFontSize": 11, "labelColor": "#222", "labelFlush": false, "labelOverlap": false, "labelPadding": 3, "titleFont": "Liberation Sans", "titleFontWeight": "normal", "titleColor": "#111"},
 "axisX": {"titleFontSize": 18, "titlePadding": 8},
 "axisY": {"titleAlign": "center", "titleBaseline": "middle"}
}
}
